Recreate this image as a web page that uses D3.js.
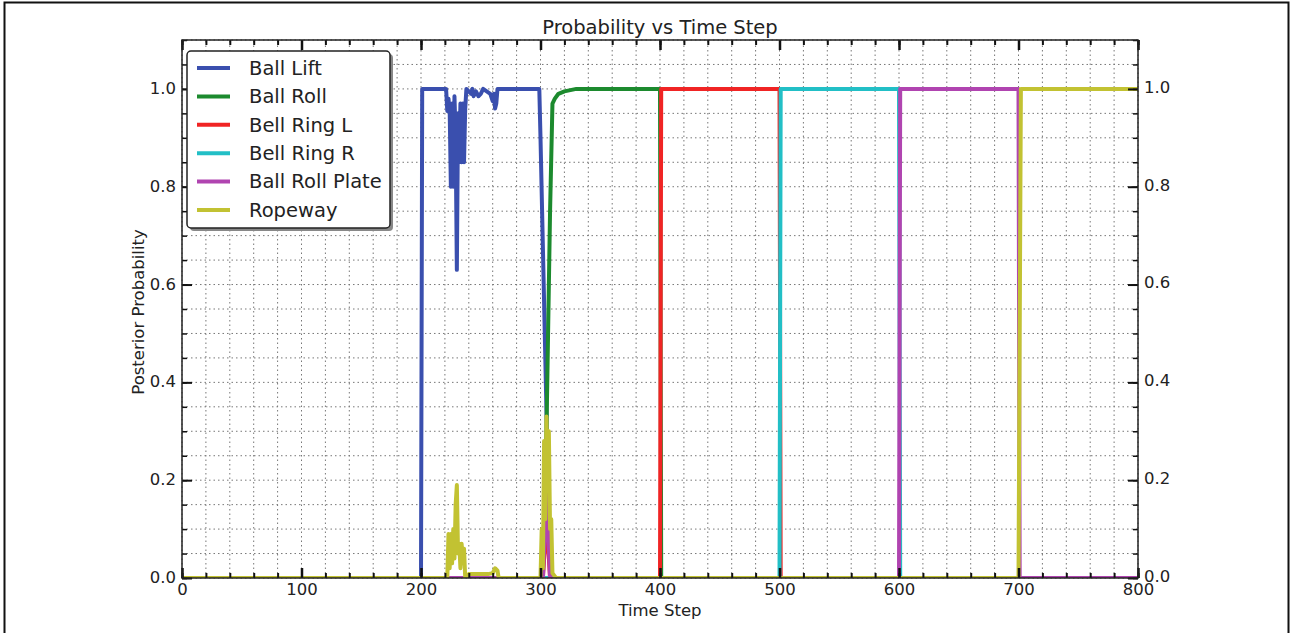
<!DOCTYPE html>
<html>
<head>
<meta charset="utf-8">
<script src="https://cdn.jsdelivr.net/npm/d3@7"></script>
<style>
  body { margin: 0; background: #fff; }
  text { font-family: "DejaVu Sans", sans-serif; fill: #222; }
</style>
</head>
<body>
<div class="graph"></div>
<script>
const w = 1291;
const h = 633;
const margin = {top: 40, right: 153, bottom: 55, left: 182};

// series: [time step, posterior probability]
const ballLift = [[0,0],[200,0],[201,1],[221,1],[222,0.955],[223,0.98],[224,0.955],[225,0.80],[226,0.97],
  [227,0.80],[228,0.985],[229,0.90],[230,0.63],[231,0.95],[232,0.85],[233,0.97],[234,0.85],[235,0.97],
  [236,0.85],[237,0.96],[238,1],[242,0.99],[243,1],[244,0.985],[246,0.995],[248,0.985],[250,0.99],[252,1],
  [258,0.99],[260,0.975],[261,0.99],[262,0.96],[263,0.97],[264,1],[299,1],[300,0.9],[305,0.34],[307,0.05],[309,0],[800,0]];
const ballRoll = [[0,0],[302,0],[305,0.3],[308,0.75],[310,0.97],[312,0.98],[315,0.99],[320,0.995],[330,1],[400,1],[401,0],[800,0]];
const bellRingL = [[0,0],[302,0],[305,0.12],[308,0],[400,0],[401,1],[500,1],[501,0],[800,0]];
const bellRingR = [[0,0],[500,0],[501,1],[600,1],[601,0],[800,0]];
const ballRollPlate = [[0,0],[302,0],[305,0.17],[308,0],[600,0],[601,1],[700,1],[701,0],[800,0]];
const ropeway = [[0,0],[222,0],[223,0.09],[224,0.02],[225,0.09],[226,0.03],[227,0.1],[228,0.04],[229,0.15],
  [230,0.19],[231,0.05],[232,0.07],[233,0.02],[234,0.07],[235,0.03],[236,0.06],[237,0],
  [240,0.008],[256,0.008],[260,0.01],[262,0.02],[264,0.015],[265,0],[300,0],[301,0.1],[302,0.02],
  [303,0.28],[304,0.12],[305,0.33],[306,0.2],[307,0.3],[308,0.1],[309,0.12],[310,0.01],[313,0],
  [700,0],[701,0.5],[702,1],[800,1]];

const seriesNames = ["Ball Lift", "Ball Roll", "Bell Ring L", "Bell Ring R", "Ball Roll Plate", "Ropeway"];
const seriesData = [ballLift, ballRoll, bellRingL, bellRingR, ballRollPlate, ropeway];
const colors = ["#3a4fae", "#1c8a2e", "#f02424", "#22bfc6", "#b044b0", "#c2c232"];

const xTicks = [0, 100, 200, 300, 400, 500, 600, 700, 800];
const yTicks = [0.0, 0.2, 0.4, 0.6, 0.8, 1.0];

const svg = d3.select('.graph').append("svg")
  .attr("width", w).attr("height", h);

// outer frame of the figure
svg.append("path")
  .attr("d", `M4.5,${h+5} V2.5 H1288.5 V${h+5}`)
  .attr("fill", "none").attr("stroke", "#111").attr("stroke-width", 2);

const x = d3.scaleLinear().domain([0, 800]).range([margin.left, w - margin.right]);
const y = d3.scaleLinear().domain([0, 1.1]).range([h - margin.bottom, margin.top]);
const x0 = x.range()[0], x1 = x.range()[1], y0 = y.range()[0], y1 = y.range()[1];

// dotted grid
const gridX = d3.range(0, 801, 20);
const gridY = d3.range(0, 1.1001, 0.05);
svg.append("g").selectAll("line").data(gridX).enter().append("line")
  .attr("x1", d => x(d)).attr("x2", d => x(d)).attr("y1", y0).attr("y2", y1)
  .attr("stroke", "#777").attr("stroke-width", 1).attr("stroke-dasharray", "1.5,3");
svg.append("g").selectAll("line").data(gridY).enter().append("line")
  .attr("y1", d => y(d)).attr("y2", d => y(d)).attr("x1", x0).attr("x2", x1)
  .attr("stroke", "#777").attr("stroke-width", 1).attr("stroke-dasharray", "1.5,3");

svg.append("clipPath").attr("id", "clip")
  .append("rect").attr("x", x0).attr("y", y1).attr("width", x1 - x0).attr("height", y0 - y1);

const line = d3.line().x(d => x(d[0])).y(d => y(d[1]));
svg.append("g").attr("clip-path", "url(#clip)")
  .selectAll("path").data(seriesData).enter().append("path")
  .attr("d", line)
  .attr("fill", "none")
  .attr("stroke", (d, i) => colors[i])
  .attr("stroke-width", 4)
  .attr("stroke-linejoin", "round");

// axes: ticks inside on all four sides
const axisStyle = g => {
  g.select(".domain").remove();
  g.selectAll("line").attr("stroke", "#111");
  g.selectAll("text").style("font-size", "16.5px").attr("fill", "#222");
};
const minorX = d3.range(0, 801, 20);
const minorY = d3.range(0, 1.1001, 0.05);

svg.append("g").attr("transform", `translate(0,${y0})`)
  .call(d3.axisBottom(x).tickValues(minorX).tickSize(-5).tickFormat(""))
  .call(axisStyle).selectAll("line").attr("stroke-width", 2);
svg.append("g").attr("transform", `translate(0,${y0})`)
  .call(d3.axisBottom(x).tickValues(xTicks).tickSize(-10).tickPadding(5).tickFormat(d3.format("d")))
  .call(axisStyle).call(g => g.selectAll("line").attr("stroke-width", 2.5))
  .call(g => g.selectAll("text").attr("dy", "0.7em"));

svg.append("g").attr("transform", `translate(0,${y1})`)
  .call(d3.axisTop(x).tickValues(minorX).tickSize(-5).tickFormat(""))
  .call(axisStyle).selectAll("line").attr("stroke-width", 2);
svg.append("g").attr("transform", `translate(0,${y1})`)
  .call(d3.axisTop(x).tickValues(xTicks).tickSize(-10).tickFormat(""))
  .call(axisStyle).selectAll("line").attr("stroke-width", 2.5);

svg.append("g").attr("transform", `translate(${x0},0)`)
  .call(d3.axisLeft(y).tickValues(minorY).tickSize(-5).tickFormat(""))
  .call(axisStyle).selectAll("line").attr("stroke-width", 1.5);
svg.append("g").attr("transform", `translate(${x0},0)`)
  .call(d3.axisLeft(y).tickValues(yTicks).tickSize(-10).tickPadding(6).tickFormat(d3.format(".1f")))
  .call(axisStyle).call(g => g.selectAll("line").attr("stroke-width", 2))
  .call(g => g.selectAll("text").attr("dy", "0.28em"));

svg.append("g").attr("transform", `translate(${x1},0)`)
  .call(d3.axisRight(y).tickValues(minorY).tickSize(-5).tickFormat(""))
  .call(axisStyle).selectAll("line").attr("stroke-width", 1.5);
svg.append("g").attr("transform", `translate(${x1},0)`)
  .call(d3.axisRight(y).tickValues(yTicks).tickSize(-10).tickPadding(6).tickFormat(d3.format(".1f")))
  .call(axisStyle).call(g => g.selectAll("line").attr("stroke-width", 2))
  .call(g => g.selectAll("text").attr("dy", "0.2em"));

// frame of the plot
svg.append("rect")
  .attr("x", x0).attr("y", y1).attr("width", x1 - x0).attr("height", y0 - y1)
  .attr("fill", "none").attr("stroke", "#222").attr("stroke-width", 1.5);

// labels
svg.append("text").attr("x", (x0 + x1) / 2).attr("y", 34)
  .attr("text-anchor", "middle").style("font-size", "19.5px")
  .text("Probability vs Time Step");
svg.append("text").attr("x", (x0 + x1) / 2).attr("y", 616)
  .attr("text-anchor", "middle").style("font-size", "16.5px")
  .text("Time Step");
svg.append("text").attr("transform", `translate(144,${(y0 + y1) / 2 + 3}) rotate(-90)`)
  .attr("text-anchor", "middle").style("font-size", "16.5px")
  .text("Posterior Probability");

// legend
const lg = svg.append("g").attr("transform", "translate(187,51)");
lg.append("rect").attr("x", 3).attr("y", 3).attr("width", 203).attr("height", 177)
  .attr("rx", 4).attr("fill", "#888");
lg.append("rect").attr("width", 203).attr("height", 177)
  .attr("rx", 4).attr("fill", "#fff").attr("stroke", "#222").attr("stroke-width", 1.5);
const items = lg.selectAll(".legend").data(seriesNames).enter().append("g")
  .attr("class", "legend")
  .attr("transform", (d, i) => `translate(0,${17 + i * 28.4})`);
items.append("line").attr("x1", 10).attr("x2", 43).attr("y1", 0).attr("y2", 0)
  .attr("stroke", (d, i) => colors[i]).attr("stroke-width", 4);
items.append("text").attr("x", 62).attr("y", 0).attr("dy", "0.35em")
  .style("font-size", "19.5px")
  .text(d => d);
</script>
</body>
</html>
